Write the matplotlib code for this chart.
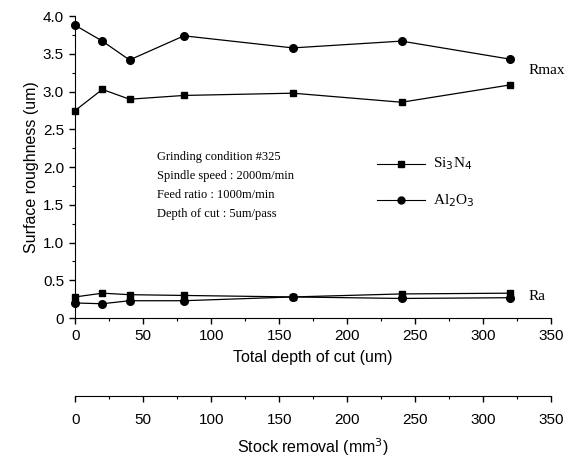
import matplotlib.pyplot as plt
import numpy as np

# Data
depth = [0, 20, 40, 80, 160, 240, 320]
rmax_al2o3 = [3.88, 3.67, 3.42, 3.74, 3.58, 3.67, 3.43]
rmax_si3n4 = [2.75, 3.03, 2.90, 2.95, 2.98, 2.86, 3.09]
ra_si3n4 = [0.28, 0.33, 0.31, 0.30, 0.28, 0.32, 0.33]
ra_al2o3 = [0.20, 0.19, 0.23, 0.23, 0.28, 0.26, 0.27]

x_ticks = [0, 50, 100, 150, 200, 250, 300, 350]
y_ticks = [0, 0.5, 1.0, 1.5, 2.0, 2.5, 3.0, 3.5, 4.0]
y_labels = ["0", "0.5", "1.0", "1.5", "2.0", "2.5", "3.0", "3.5", "4.0"]

conditions = ["Grinding condition #325",
              "Spindle speed : 2000m/min",
              "Feed ratio : 1000m/min",
              "Depth of cut : 5um/pass"]


def style_ticks(axis, pad=4):
    axis.tick_params(which="major", direction="out", length=4, width=1,
                     labelsize=11, pad=pad)
    axis.tick_params(which="minor", direction="out", length=2.5, width=0.8)


def main():
    plt.rcParams["font.family"] = ["Liberation Sans", "DejaVu Sans"]
    fig = plt.figure(figsize=(5.87, 4.63), dpi=100)
    ax = fig.add_axes([0.128, 0.313, 0.811, 0.652])

    # Series
    ax.plot(depth, rmax_al2o3, color="black", lw=0.9, marker="o", ms=5.5, clip_on=False)
    ax.plot(depth, rmax_si3n4, color="black", lw=0.9, marker="s", ms=4.5, clip_on=False)
    ax.plot(depth, ra_si3n4, color="black", lw=0.9, marker="s", ms=4.5, clip_on=False)
    ax.plot(depth, ra_al2o3, color="black", lw=0.9, marker="o", ms=5.5, clip_on=False)

    ax.set_xlim(0, 350)
    ax.set_ylim(0, 4.0)
    ax.set_xticks(x_ticks)
    ax.set_xticks(np.arange(0, 351, 25), minor=True)
    ax.set_yticks(y_ticks)
    ax.set_yticklabels(y_labels)
    ax.set_yticks(np.arange(0, 4.01, 0.25), minor=True)
    ax.spines["top"].set_visible(False)
    ax.spines["right"].set_visible(False)
    style_ticks(ax)
    ax.set_xlabel("Total depth of cut (um)", fontsize=11.5, labelpad=5)
    ax.set_ylabel("Surface roughness (um)", fontsize=11.5, labelpad=3)

    # Second x axis for stock removal
    sec = ax.secondary_xaxis(-0.258)
    sec.set_xticks(x_ticks)
    sec.set_xticks(np.arange(0, 351, 25), minor=True)
    style_ticks(sec, pad=8)
    sec.set_xlabel("Stock removal (mm$^3$)", fontsize=11.5, labelpad=7)

    # Condition text
    for i, line in enumerate(conditions):
        ax.text(0.172, 0.535 - i * 0.063, line, transform=ax.transAxes,
                family="Liberation Serif", fontsize=9, va="center")

    # Hand-made legend
    leg_x = [0.635, 0.735]
    ax.plot(leg_x, [0.51, 0.51], transform=ax.transAxes, color="black", lw=0.8)
    ax.plot([0.685], [0.51], transform=ax.transAxes, color="black", marker="s", ms=4.5)
    ax.text(0.752, 0.51, "Si$_3$N$_4$", transform=ax.transAxes,
            family="Liberation Serif", fontsize=11, va="center")
    ax.plot(leg_x, [0.39, 0.39], transform=ax.transAxes, color="black", lw=0.8)
    ax.plot([0.685], [0.39], transform=ax.transAxes, color="black", marker="o", ms=5)
    ax.text(0.752, 0.39, "Al$_2$O$_3$", transform=ax.transAxes,
            family="Liberation Serif", fontsize=11, va="center")

    # Curve labels
    ax.text(333, 3.28, "Rmax", family="Liberation Serif", fontsize=11, va="center")
    ax.text(333, 0.28, "Ra", family="Liberation Serif", fontsize=11, va="center")

    plt.savefig("out.png", dpi=100)


if __name__ == "__main__":
    main()
